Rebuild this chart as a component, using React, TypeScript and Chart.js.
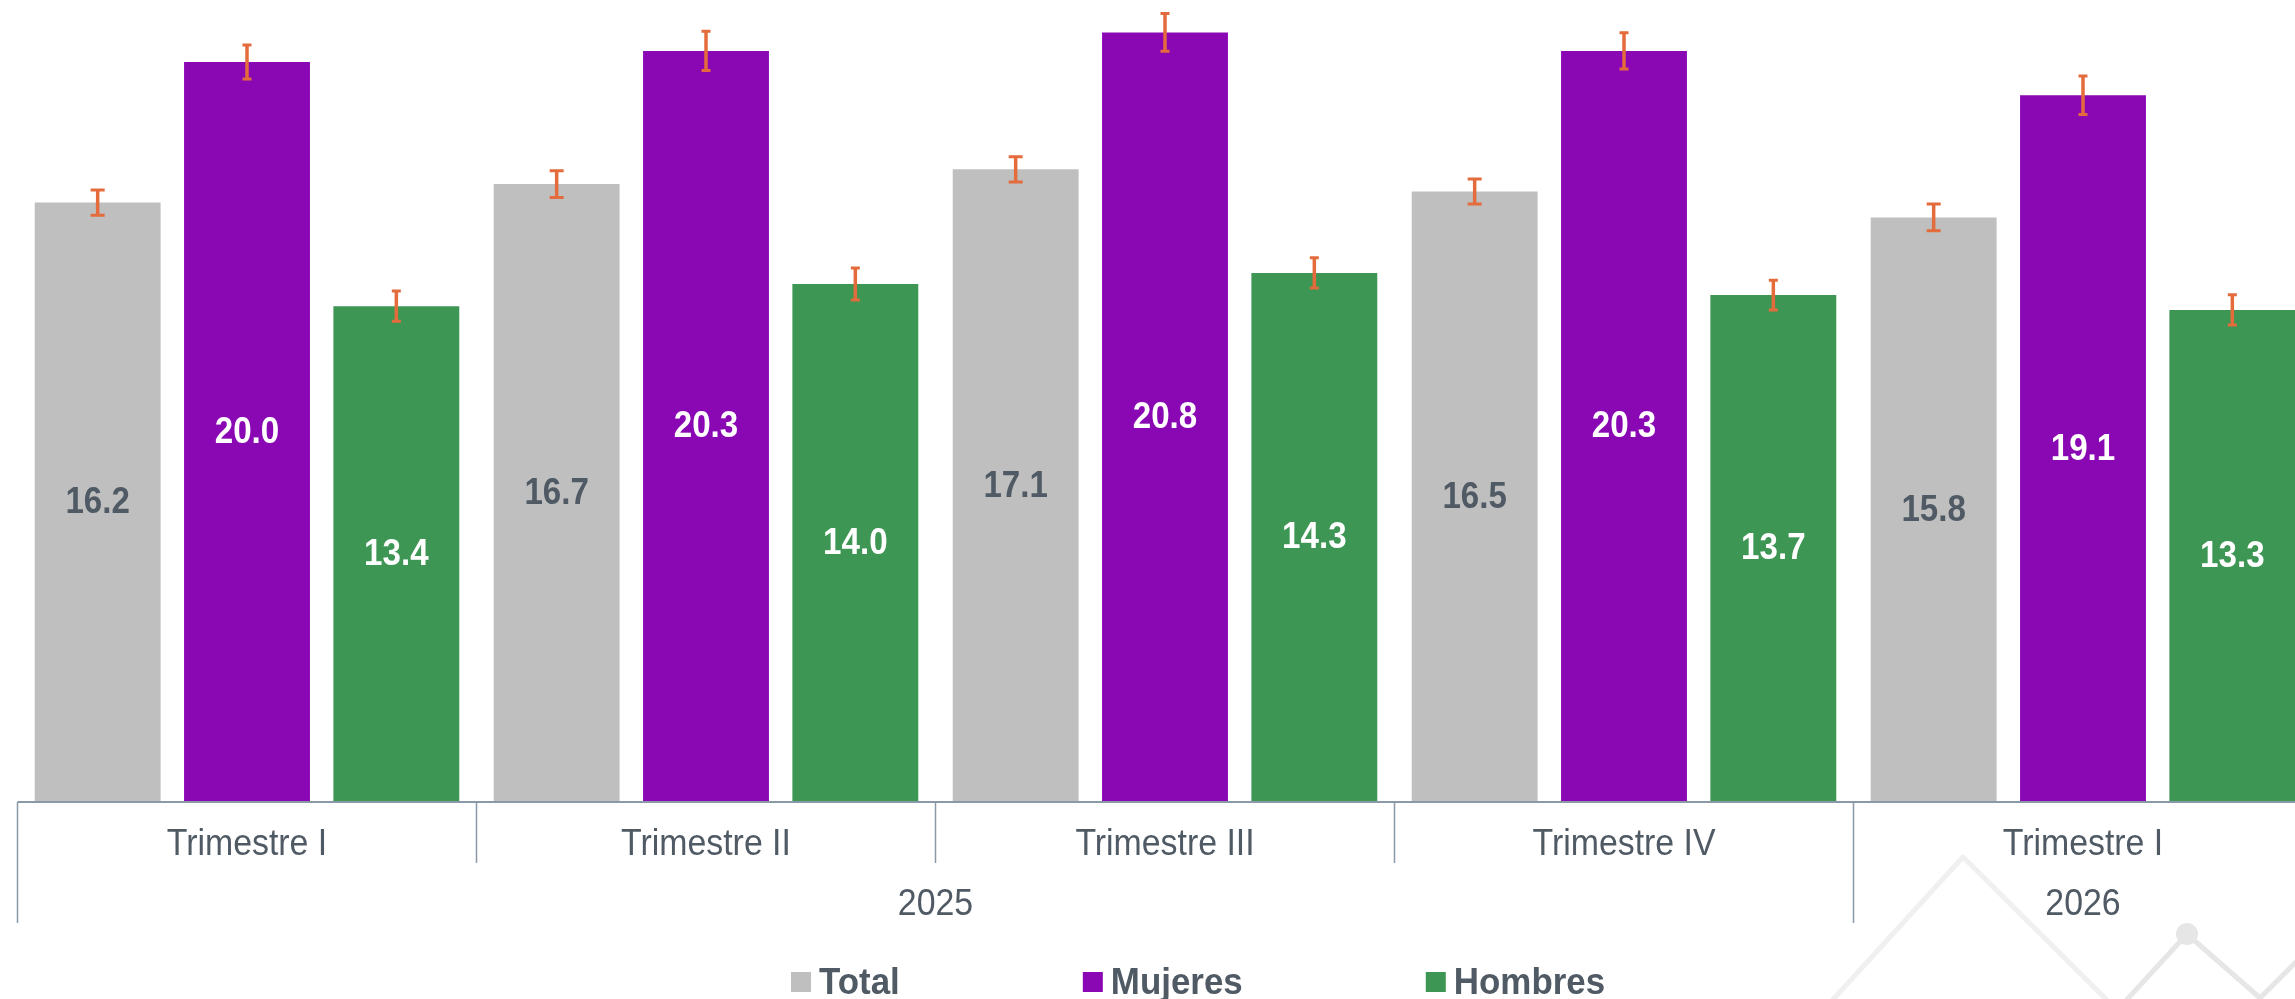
import React, { useEffect, useRef } from "react";
import { Chart, registerables } from "chart.js";

Chart.register(...registerables);

// ---- data ----
const quarters = ["Trimestre I", "Trimestre II", "Trimestre III", "Trimestre IV", "Trimestre I"];
const years = ["2025", "2026"];
const yearSpans = [4, 1];
const seriesNames = ["Total", "Mujeres", "Hombres"];
const total = [16.2, 16.7, 17.1, 16.5, 15.8];
const mujeres = [20.0, 20.3, 20.8, 20.3, 19.1];
const hombres = [13.4, 14.0, 14.3, 13.7, 13.3];
const errTotal = [0.34, 0.36, 0.34, 0.34, 0.36];
const errMujeres = [0.46, 0.53, 0.51, 0.49, 0.52];
const errHombres = [0.41, 0.43, 0.41, 0.4, 0.41];

// ---- styles ----
const W = 2330;
const H = 999;
const FONT = '"Liberation Sans", Arial, Helvetica, sans-serif';
const TEXT = "#505A64";
const AXIS = "#8A99A8";
const ERR = "#E46B3C";
const colors = ["#BFBFBF", "#8A07B4", "#3E9654"];
const labelColors = [TEXT, "#FFFFFF", "#FFFFFF"];
const capHalf = [7, 4.5, 4.5];

const values = [total, mujeres, hombres];
const errors = [errTotal, errMujeres, errHombres];

function fillScaled(ctx: any, text: string, x: number, y: number, sx: number) {
  ctx.save();
  ctx.translate(x, y);
  ctx.scale(sx, 1);
  ctx.fillText(text, 0, 0);
  ctx.restore();
}

const decorPlugin = {
  id: "decor",
  beforeDraw(chart: any) {
    const ctx = chart.ctx;
    ctx.save();
    ctx.fillStyle = "#FFFFFF";
    ctx.fillRect(0, 0, chart.width, chart.height);
    // faint background watermark
    ctx.lineWidth = 5;
    ctx.lineCap = "round";
    ctx.lineJoin = "round";
    ctx.strokeStyle = "#F0F0F0";
    ctx.beginPath();
    ctx.moveTo(1828, 1005);
    ctx.lineTo(1963, 857);
    ctx.lineTo(2112, 1005);
    ctx.stroke();
    ctx.strokeStyle = "#E6E6E6";
    ctx.beginPath();
    ctx.moveTo(2122, 1005);
    ctx.lineTo(2187, 934);
    ctx.lineTo(2260, 998);
    ctx.lineTo(2300, 958);
    ctx.stroke();
    ctx.fillStyle = "#E6E6E6";
    ctx.beginPath();
    ctx.arc(2187, 934, 11, 0, Math.PI * 2);
    ctx.fill();
    ctx.restore();
  },
  afterDatasetsDraw(chart: any) {
    const ctx = chart.ctx;
    const yScale = chart.scales.y;
    ctx.save();
    chart.data.datasets.forEach((ds: any, di: number) => {
      const meta = chart.getDatasetMeta(di);
      meta.data.forEach((el: any, i: number) => {
        const v = ds.data[i];
        // data label
        ctx.font = `bold 36px ${FONT}`;
        ctx.fillStyle = labelColors[di];
        ctx.textAlign = "center";
        ctx.textBaseline = "middle";
        fillScaled(ctx, v.toFixed(1), el.x, (el.y + el.base) / 2 + 1, 0.92);
        // error bar
        const e = errors[di][i];
        const yt = yScale.getPixelForValue(v + e);
        const yb = yScale.getPixelForValue(v - e);
        ctx.strokeStyle = ERR;
        ctx.lineWidth = 3.5;
        ctx.lineCap = "butt";
        ctx.beginPath();
        ctx.moveTo(el.x, yt);
        ctx.lineTo(el.x, yb);
        ctx.stroke();
        ctx.lineWidth = 3;
        ctx.beginPath();
        ctx.moveTo(el.x - capHalf[di], yt);
        ctx.lineTo(el.x + capHalf[di], yt);
        ctx.moveTo(el.x - capHalf[di], yb);
        ctx.lineTo(el.x + capHalf[di], yb);
        ctx.stroke();
      });
    });
    ctx.restore();
  },
  afterDraw(chart: any) {
    const ctx = chart.ctx;
    const area = chart.chartArea;
    const xs = chart.scales.x;
    const n = chart.data.labels.length;
    const catW = (area.right - area.left) / n;
    const bottom = area.bottom;
    ctx.save();
    // axis line
    ctx.strokeStyle = AXIS;
    ctx.lineWidth = 2;
    ctx.beginPath();
    ctx.moveTo(area.left, bottom);
    ctx.lineTo(area.right, bottom);
    ctx.stroke();
    // separators
    const yearStarts = new Set<number>();
    let acc = 0;
    yearStarts.add(0);
    yearSpans.forEach((s) => {
      acc += s;
      yearStarts.add(acc);
    });
    ctx.lineWidth = 1.5;
    for (let i = 0; i <= n; i++) {
      const x = i < n ? xs.getPixelForValue(i) - catW / 2 : xs.getPixelForValue(n - 1) + catW / 2;
      const len = yearStarts.has(i) ? 121 : 61;
      ctx.beginPath();
      ctx.moveTo(x, bottom);
      ctx.lineTo(x, bottom + len);
      ctx.stroke();
    }
    // quarter labels
    ctx.fillStyle = TEXT;
    ctx.font = `36px ${FONT}`;
    ctx.textAlign = "center";
    ctx.textBaseline = "alphabetic";
    chart.data.labels.forEach((lab: string, i: number) => {
      fillScaled(ctx, lab, xs.getPixelForValue(i), bottom + 53, 0.94);
    });
    // year labels
    let start = 0;
    years.forEach((yr, k) => {
      const end = start + yearSpans[k] - 1;
      const cx = (xs.getPixelForValue(start) + xs.getPixelForValue(end)) / 2;
      fillScaled(ctx, yr, cx, bottom + 113, 0.94);
      start = end + 1;
    });
    // legend
    ctx.font = `bold 36px ${FONT}`;
    ctx.textAlign = "left";
    let lx = 791;
    chart.data.datasets.forEach((ds: any, di: number) => {
      ctx.fillStyle = colors[di];
      ctx.fillRect(lx, 972, 20, 20);
      ctx.fillStyle = TEXT;
      fillScaled(ctx, ds.label, lx + 28, 994, 0.97);
      lx += 28 + ctx.measureText(ds.label).width * 0.97 + 183;
    });
    ctx.restore();
  },
};

export default function App() {
  const ref = useRef<HTMLCanvasElement | null>(null);
  useEffect(() => {
    if (!ref.current) return;
    const chart = new Chart(ref.current, {
      type: "bar",
      data: {
        labels: quarters,
        datasets: seriesNames.map((name, i) => ({
          label: name,
          data: values[i],
          backgroundColor: colors[i],
          borderWidth: 0,
          categoryPercentage: 0.976,
          barPercentage: 0.843,
        })),
      },
      options: {
        responsive: false,
        animation: false,
        devicePixelRatio: 1,
        layout: { padding: { left: 17.5, right: 17.5, top: 6.5, bottom: 197 } },
        scales: {
          x: { display: false },
          y: { display: false, min: 0, max: 21.5 },
        },
        plugins: { legend: { display: false }, tooltip: { enabled: false } },
      },
      plugins: [decorPlugin],
    } as any);
    return () => chart.destroy();
  }, []);
  return (
    <div
      style={{
        position: "absolute",
        left: 0,
        top: 0,
        width: 2295,
        height: 999,
        overflow: "hidden",
        background: "#fff",
      }}
    >
      <canvas ref={ref} width={W} height={H} style={{ display: "block", width: W, height: H }} />
    </div>
  );
}
